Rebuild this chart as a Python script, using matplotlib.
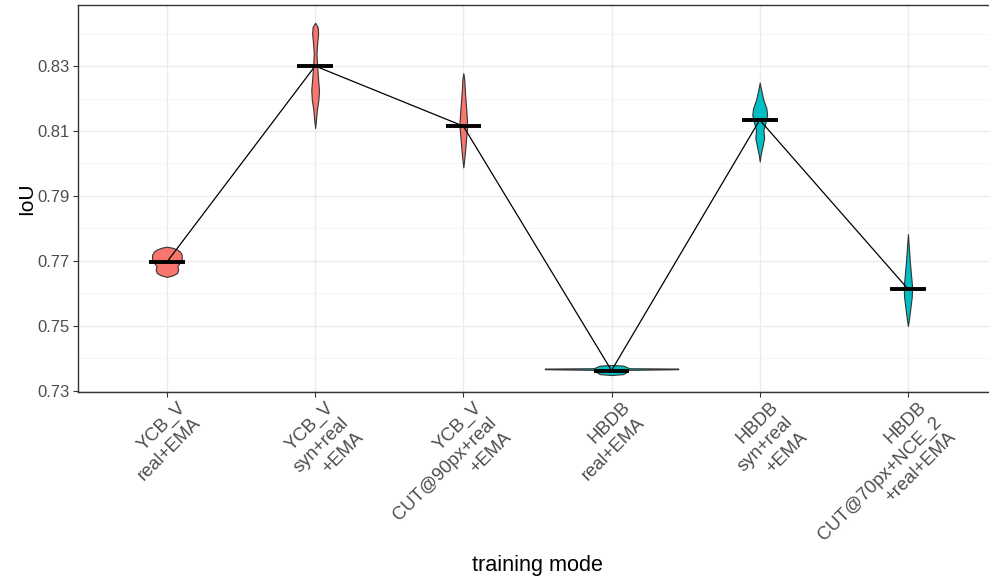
import numpy as np
import matplotlib
matplotlib.use('Agg')
from matplotlib import pyplot as plt
from matplotlib.transforms import offset_copy

# category labels (ggplot-style multi-line)
modes = ['YCB_V\nreal+EMA',
         'YCB_V\nsyn+real\n+EMA',
         'YCB_V\nCUT@90px+real\n+EMA',
         'HBDB\nreal+EMA',
         'HBDB\nsyn+real\n+EMA',
         'HBDB\nCUT@70px+NCE_2\n+real+EMA']
dataset = ['YCB_V', 'YCB_V', 'YCB_V', 'HBDB', 'HBDB', 'HBDB']
mean_iou = [0.7697, 0.8300, 0.8115, 0.7363, 0.8134, 0.7614]

# violin outlines: (IoU value, half width)
v1_val = [0.7744, 0.7741, 0.7736, 0.7729, 0.7719, 0.7706, 0.7695, 0.7684, 0.7673, 0.7663, 0.7656, 0.7651]
v1_hw = [0.0, 0.035, 0.065, 0.088, 0.100, 0.100, 0.088, 0.070, 0.076, 0.068, 0.040, 0.0]
v2_val = [0.8433, 0.8420, 0.8400, 0.8370, 0.8339, 0.8298, 0.8260, 0.8226, 0.8195, 0.8165, 0.8135, 0.8109]
v2_hw = [0.0, 0.017, 0.020, 0.014, 0.009, 0.014, 0.020, 0.026, 0.022, 0.012, 0.006, 0.0]
v3_val = [0.8278, 0.8260, 0.8235, 0.8200, 0.8165, 0.8130, 0.8110, 0.8085, 0.8050, 0.8020, 0.7988]
v3_hw = [0.0, 0.006, 0.009, 0.014, 0.020, 0.025, 0.025, 0.020, 0.014, 0.008, 0.0]
v4_val = [0.7380, 0.7378, 0.7374, 0.7370, 0.7369, 0.7367, 0.7365, 0.7358, 0.7352, 0.7349]
v4_hw = [0.0, 0.08, 0.10, 0.12, 0.45, 0.45, 0.10, 0.10, 0.08, 0.0]
v5_val = [0.8249, 0.8226, 0.8195, 0.8170, 0.8149, 0.8129, 0.8103, 0.8078, 0.8052, 0.8026, 0.8006]
v5_hw = [0.0, 0.010, 0.025, 0.045, 0.050, 0.040, 0.025, 0.030, 0.018, 0.006, 0.0]
v6_val = [0.7783, 0.7744, 0.7703, 0.7662, 0.7621, 0.7590, 0.7549, 0.7518, 0.7500]
v6_hw = [0.0, 0.006, 0.012, 0.020, 0.028, 0.026, 0.015, 0.006, 0.0]

violin_vals = [v1_val, v2_val, v3_val, v4_val, v5_val, v6_val]
violin_hws = [v1_hw, v2_hw, v3_hw, v4_hw, v5_hw, v6_hw]

yticks = [0.73, 0.75, 0.77, 0.79, 0.81, 0.83]
ytick_labels = ['0.73', '0.75', '0.77', '0.79', '0.81', '0.83']
yminor = [0.74, 0.76, 0.78, 0.80, 0.82, 0.84]

fill_cols = {'YCB_V': '#F8766D', 'HBDB': '#00BFC4'}


def main():
    plt.rcParams['font.family'] = ['Liberation Sans', 'DejaVu Sans']

    fig = plt.figure(figsize=(9.89, 5.81), dpi=100)
    ax = fig.add_axes([78 / 989, 1 - 392 / 581, 1 - 78 / 989, 387 / 581])

    xs = np.arange(1, len(modes) + 1)

    # grid (theme_bw look)
    for y in yminor:
        ax.axhline(y, color='#F2F2F2', lw=0.55, zorder=0)
    for y in yticks:
        ax.axhline(y, color='#EBEBEB', lw=1.0, zorder=0)
    for x in xs:
        ax.axvline(x, color='#EBEBEB', lw=1.0, zorder=0)

    for x, vals, hws, ds in zip(xs, violin_vals, violin_hws, dataset):
        vals = np.array(vals)
        hws = np.array(hws)
        ax.fill_betweenx(vals, x - hws, x + hws, facecolor=fill_cols[ds],
                         edgecolor='#333333', lw=0.8, zorder=2)

    ax.plot(xs, mean_iou, color='black', lw=0.9, zorder=3)
    for x, m in zip(xs, mean_iou):
        ax.plot([x - 0.12, x + 0.12], [m, m], color='black', lw=2.8,
                solid_capstyle='butt', zorder=4)

    ax.set_xlim(0.4, 0.4 + (989 - 78) / 148.2)
    ax.set_ylim(0.72969, 0.84877)

    ax.set_yticks(yticks)
    ax.set_yticklabels(ytick_labels)
    ax.set_xticks(xs)
    ax.set_xticklabels([])
    ax.tick_params(axis='both', which='both', color='#333333', length=3.5,
                   width=0.8, labelsize=12, labelcolor='#4D4D4D', pad=2.5)

    # rotated multi-line tick labels
    trans = offset_copy(ax.get_xaxis_transform(), fig=fig, x=10, y=-7, units='dots')
    for x, lab in zip(xs, modes):
        ax.text(x, 0, lab, transform=trans, rotation=45, rotation_mode='anchor',
                ha='right', va='top', multialignment='right', linespacing=1.3,
                fontsize=13.3, color='#4D4D4D')

    for s in ax.spines.values():
        s.set_color('#333333')
        s.set_linewidth(1.0)
    ax.spines['right'].set_visible(False)

    ax.set_ylabel('IoU', fontsize=15, labelpad=1)
    fig.text(537 / 989, 1 - 566 / 581, 'training mode', fontsize=15.6,
             ha='center', va='center')

    fig.savefig('out.png', dpi=100)


if __name__ == '__main__':
    main()
